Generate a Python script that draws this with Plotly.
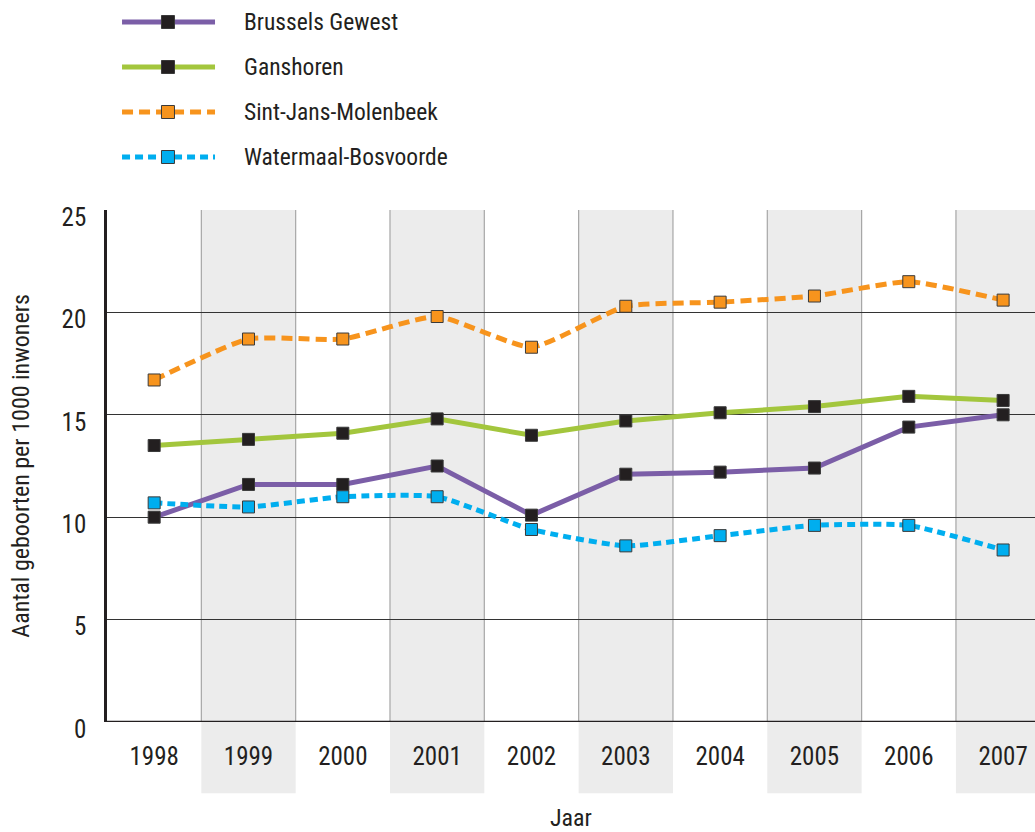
import plotly.graph_objects as go

years = [1998, 1999, 2000, 2001, 2002, 2003, 2004, 2005, 2006, 2007]
brussels = [10.0, 11.6, 11.6, 12.5, 10.1, 12.1, 12.2, 12.4, 14.4, 15.0]
ganshoren = [13.5, 13.8, 14.1, 14.8, 14.0, 14.7, 15.1, 15.4, 15.9, 15.7]
molenbeek = [16.7, 18.7, 18.7, 19.8, 18.3, 20.3, 20.5, 20.8, 21.5, 20.6]
watermaal = [10.7, 10.5, 11.0, 11.0, 9.4, 8.6, 9.1, 9.6, 9.6, 8.4]

names = ["Brussels Gewest", "Ganshoren", "Sint-Jans-Molenbeek", "Watermaal-Bosvoorde"]
series = [brussels, ganshoren, molenbeek, watermaal]
line_colors = ["#7b5ea7", "#a3c63d", "#f7941d", "#00aeef"]
marker_colors = ["#231f20", "#231f20", "#f7941d", "#00aeef"]
dashes = ["solid", "solid", "11px,6px", "8px,5px"]
shapes_ = ["linear", "linear", "spline", "spline"]

FONT = "Liberation Sans Narrow, Roboto Condensed, Arial Narrow, Liberation Sans, sans-serif"
TXT = "#231f20"

fig = go.Figure()

# background bands and vertical separators
shp = []
for i, yr in enumerate(years):
    if i % 2 == 1:
        shp.append(dict(type="rect", xref="x", yref="paper", x0=yr - 0.5, x1=yr + 0.5,
                        y0=-0.139, y1=1, fillcolor="#ececec", line_width=0, layer="below"))
    if i > 0:
        shp.append(dict(type="line", xref="x", yref="paper", x0=yr - 0.5, x1=yr - 0.5,
                        y0=0, y1=1, line=dict(color="#a6a6a6", width=1.2), layer="below"))

for name, vals, lc, mc, d, sh in zip(names, series, line_colors, marker_colors, dashes, shapes_):
    fig.add_trace(go.Scatter(
        x=years, y=vals, name=name, mode="lines+markers",
        line=dict(color=lc, width=5, dash=d, shape=sh, smoothing=0.5),
        marker=dict(symbol="square", size=12, color=mc, line=dict(color="#3a3a3a", width=1)),
        showlegend=False,
    ))

# manual legend
ann = []
row_px = [22, 67, 112, 157]
for name, lc, mc, d, rp in zip(names, line_colors, marker_colors, dashes, row_px):
    yp = (722 - rp) / 512
    shp.append(dict(type="line", xref="paper", yref="paper", x0=0.0162, x1=0.1164,
                    y0=yp, y1=yp, line=dict(color=lc, width=5, dash=d)))
    shp.append(dict(type="rect", xref="paper", yref="paper", xsizemode="pixel",
                    ysizemode="pixel", xanchor=0.0657, yanchor=yp, x0=-6.5, x1=6.5,
                    y0=-6.5, y1=6.5, fillcolor=mc, line=dict(color="#3a3a3a", width=1)))
    ann.append(dict(text=name, xref="paper", yref="paper", x=0.1455, y=yp,
                    xanchor="left", yanchor="middle", showarrow=False,
                    font=dict(size=23.5, color=TXT, family=FONT)))

ann.append(dict(text="Aantal geboorten per 1000 inwoners", xref="paper", yref="paper",
                x=-0.093, y=0.5, textangle=-90, xanchor="center", yanchor="middle",
                showarrow=False, font=dict(size=24, color=TXT, family=FONT)))
ann.append(dict(text="Jaar", xref="paper", yref="paper", x=0.5, y=-0.187,
                xanchor="center", yanchor="middle", showarrow=False,
                font=dict(size=24, color=TXT, family=FONT)))

fig.update_layout(
    width=1035, height=832,
    margin=dict(l=107, r=0, t=210, b=110),
    paper_bgcolor="white", plot_bgcolor="rgba(0,0,0,0)",
    shapes=shp, annotations=ann,
    font=dict(family=FONT, size=24, color=TXT),
)
fig.update_xaxes(
    range=[1997.5, 2007.338], tickvals=years, ticktext=[str(y) for y in years],
    showgrid=False, zeroline=False, showline=False, ticks="", ticklabelstandoff=17,
    ticklabeloverflow="allow",
    tickfont=dict(size=25, color=TXT, family=FONT),
)
fig.update_yaxes(
    range=[0, 25], tickvals=[0, 5, 10, 15, 20, 25], showgrid=True,
    gridcolor="#333333", gridwidth=1.3, zeroline=False,
    showline=True, linecolor="#231f20", linewidth=2.5, ticks="", ticklabelstandoff=13,
    ticklabelshift=7,
    tickfont=dict(size=25, color=TXT, family=FONT),
)
# bottom axis line
fig.add_shape(type="line", xref="paper", yref="y", x0=0, x1=1, y0=0, y1=0,
              line=dict(color="#231f20", width=2.5))

# drop the default 8px page margin so the figure fills the window exactly
fig.write_html("out.html", config={"displayModeBar": False},
               post_script="document.body.style.margin='0';")
